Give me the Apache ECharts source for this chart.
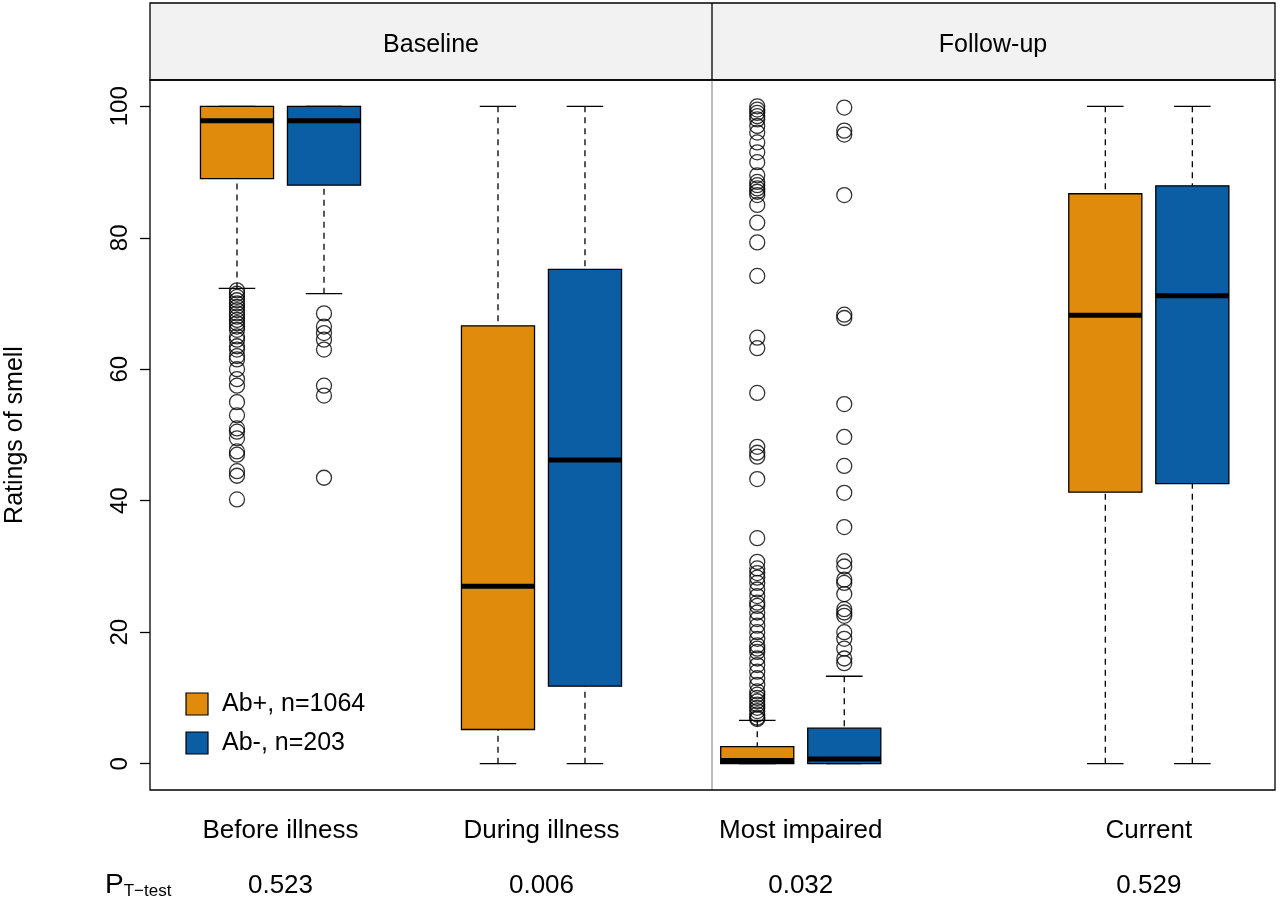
<!DOCTYPE html>
<html>
<head>
<meta charset="utf-8">
<script src="https://cdn.jsdelivr.net/npm/echarts@6/dist/echarts.min.js"></script>
<style>html,body{margin:0;padding:0;background:#fff}#main{width:1280px;height:903px}</style>
</head>
<body>
<div id="main"></div>
<script>
// box stats: [x, low, q1, median, q3, high, group]
var groups = ['Ab+, n=1064', 'Ab-, n=203'];
var colors = ['#E08B0C', '#0B5DA4'];
var periods = ['Before illness', 'During illness', 'Most impaired', 'Current'];
var pValues = ['0.523', '0.006', '0.032', '0.529'];
var yTicks = [0, 20, 40, 60, 80, 100];

var boxesBaseline = [
    [1, 72.3, 89, 97.8, 100, 100, 0],
    [2, 71.5, 88, 97.8, 100, 100, 1],
    [4, 0, 5.2, 27, 66.6, 100, 0],
    [5, 0, 11.8, 46.2, 75.2, 100, 1]
];
var boxesFollowup = [
    [1, 0, 0, 0.5, 2.6, 6.6, 0],
    [2, 0, 0, 0.7, 5.4, 13.3, 1],
    [5, 0, 41.3, 68.2, 86.7, 100, 0],
    [6, 0, 42.6, 71.2, 87.9, 100, 1]
];

var outBeforeAbPos = [40.2, 43.8, 44.5, 47, 47.5, 49.5, 50.5, 51, 53, 55, 57.5, 58.5, 60, 61.5, 62, 63, 63.5,
    64.5, 65, 66, 66.5, 67, 67.5, 68, 68.5, 69, 69.5, 70, 70.5, 71, 71.5, 72];
var outBeforeAbNeg = [68.5, 66.5, 65.5, 64.5, 63, 57.5, 56, 43.5];
var outWorstAbPos = [100, 99.5, 99, 98.5, 98, 97, 96, 94.5, 93, 91.5, 89.5, 88.5, 88, 87.5, 87, 86.5, 85, 82.3,
    79.3, 74.2, 64.8, 63.2, 56.4, 48.2, 47.3, 46.7, 43.3, 34.3, 30.7, 29.7, 29, 28.3, 27.5, 26.5, 25.5, 24.5, 24,
    23, 22, 21, 20, 19, 18, 17.5, 17, 16, 15, 14, 13, 12, 11, 10.5, 10, 9.5, 9, 8.5, 8, 7.5, 7, 6.8];
var outWorstAbNeg = [99.8, 96.3, 95.7, 86.5, 68.3, 67.8, 54.7, 49.7, 45.3, 41.2, 36, 30.8, 30, 28, 27.5, 25.8,
    23.5, 23, 22.5, 20, 19, 17.5, 16, 15.3];

var font = 'Liberation Sans, Arial, sans-serif';
var chart = echarts.init(document.getElementById('main'));

function renderBox(params, api) {
    var x = api.value(0);
    var half = 0.42, cap = 0.21;
    var p = function (dx, v) { return api.coord([x + dx, v]); };
    var c = colors[api.value(6)];
    var dash = {stroke: '#000', lineWidth: 1.3, lineDash: [6, 5]};
    var solid = {stroke: '#000', lineWidth: 1.3};
    var lo = p(-half, api.value(2)), hi = p(half, api.value(4));
    var cx = p(0, 0)[0];
    var yLow = p(0, api.value(1))[1], yHigh = p(0, api.value(5))[1];
    var kids = [
        {type: 'line', shape: {x1: cx, y1: yLow, x2: cx, y2: lo[1]}, style: dash},
        {type: 'line', shape: {x1: cx, y1: yHigh, x2: cx, y2: hi[1]}, style: dash},
        {type: 'line', shape: {x1: p(-cap, 0)[0], y1: yLow, x2: p(cap, 0)[0], y2: yLow}, style: solid},
        {type: 'line', shape: {x1: p(-cap, 0)[0], y1: yHigh, x2: p(cap, 0)[0], y2: yHigh}, style: solid},
        {type: 'rect', shape: {x: lo[0], y: hi[1], width: hi[0] - lo[0], height: lo[1] - hi[1]},
            style: {fill: c, stroke: '#000', lineWidth: 1.3}},
        {type: 'line', shape: {x1: lo[0], y1: p(0, api.value(3))[1], x2: hi[0], y2: p(0, api.value(3))[1]},
            style: {stroke: '#000', lineWidth: 5}}
    ];
    return {type: 'group', children: kids};
}

function pts(x, vals) { return vals.map(function (v) { return [x, v]; }); }
var outStyle = {color: 'rgba(0,0,0,0)', borderColor: '#000', borderWidth: 1.3};

chart.setOption({
    animation: false,
    grid: [
        {left: 150, width: 562, top: 80, bottom: 113},
        {left: 712, width: 563, top: 80, bottom: 113}
    ],
    xAxis: [
        {gridIndex: 0, type: 'value', min: 0, max: 6.46, show: false},
        {gridIndex: 1, type: 'value', min: 0.48, max: 6.95, show: false}
    ],
    yAxis: [
        {gridIndex: 0, type: 'value', min: -4, max: 104, splitLine: {show: false},
            axisLine: {show: false},
            axisTick: {show: true, length: 10, lineStyle: {color: '#000', width: 1.3}, customValues: yTicks},
            axisLabel: {rotate: 90, fontSize: 24, color: '#000', fontFamily: font, margin: 18,
                customValues: yTicks},
            name: 'Ratings of smell', nameLocation: 'middle', nameGap: 122, nameRotate: 90,
            nameTextStyle: {fontSize: 25, color: '#000', fontFamily: font}},
        {gridIndex: 1, type: 'value', min: -4, max: 104, show: false}
    ],
    series: [
        {type: 'custom', xAxisIndex: 0, yAxisIndex: 0, renderItem: renderBox, data: boxesBaseline, z: 2},
        {type: 'custom', xAxisIndex: 1, yAxisIndex: 1, renderItem: renderBox, data: boxesFollowup, z: 2},
        {type: 'scatter', xAxisIndex: 0, yAxisIndex: 0, symbolSize: 15, itemStyle: outStyle, data: pts(1, outBeforeAbPos)},
        {type: 'scatter', xAxisIndex: 0, yAxisIndex: 0, symbolSize: 15, itemStyle: outStyle, data: pts(2, outBeforeAbNeg)},
        {type: 'scatter', xAxisIndex: 1, yAxisIndex: 1, symbolSize: 15, itemStyle: outStyle, data: pts(1, outWorstAbPos)},
        {type: 'scatter', xAxisIndex: 1, yAxisIndex: 1, symbolSize: 15, itemStyle: outStyle, data: pts(2, outWorstAbNeg)}
    ]
});

// labels placed through the axis scales
var centers = [[0, 1.5], [0, 4.5], [1, 1.5], [1, 5.5]];
var g = [
    {type: 'rect', shape: {x: 150, y: 3, width: 1125, height: 77}, style: {fill: '#f2f2f2', stroke: '#000', lineWidth: 1.3}},
    {type: 'rect', shape: {x: 150, y: 80, width: 1125, height: 710}, style: {fill: 'none', stroke: '#000', lineWidth: 1.3}, z: 10},
    {type: 'line', shape: {x1: 712, y1: 3, x2: 712, y2: 80}, style: {stroke: '#000', lineWidth: 1.3}},
    {type: 'line', shape: {x1: 712, y1: 80, x2: 712, y2: 790}, style: {stroke: '#999', lineWidth: 1.3}},
    {type: 'text', x: 431, y: 45, style: {text: 'Baseline', font: '25px ' + font, fill: '#000', align: 'center', verticalAlign: 'middle'}},
    {type: 'text', x: 993, y: 45, style: {text: 'Follow-up', font: '25px ' + font, fill: '#000', align: 'center', verticalAlign: 'middle'}},
    {type: 'text', x: 105, y: 885, style: {rich: {a: {fontSize: 28, fontFamily: font}, b: {fontSize: 17, fontFamily: font, padding: [12, 0, 0, 0]}},
        text: '{a|P}{b|T\u2212test}', fill: '#000', verticalAlign: 'middle'}}
];
centers.forEach(function (c, i) {
    var px = chart.convertToPixel({xAxisIndex: c[0]}, c[1]);
    g.push({type: 'text', x: px, y: 831, style: {text: periods[i], font: '26px ' + font, fill: '#000', align: 'center', verticalAlign: 'middle'}});
    g.push({type: 'text', x: px, y: 886, style: {text: pValues[i], font: '26px ' + font, fill: '#000', align: 'center', verticalAlign: 'middle'}});
});
groups.forEach(function (name, i) {
    var y = 704 + i * 39;
    g.push({type: 'rect', shape: {x: 186, y: y - 11, width: 22, height: 22}, style: {fill: colors[i], stroke: '#000', lineWidth: 1.2}, z: 20});
    g.push({type: 'text', x: 222, y: y, style: {text: name, font: '25px ' + font, fill: '#000', verticalAlign: 'middle'}, z: 20});
});
chart.setOption({graphic: g});
</script>
</body>
</html>
